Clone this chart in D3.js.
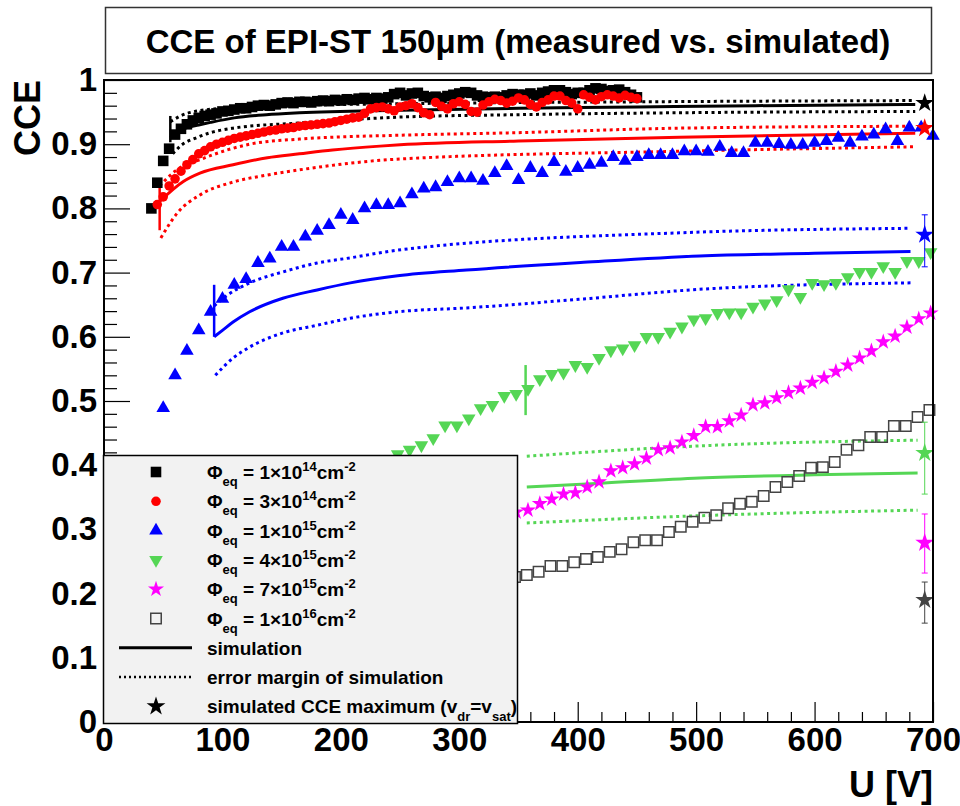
<!DOCTYPE html>
<html>
<head>
<meta charset="utf-8">
<script src="https://cdn.jsdelivr.net/npm/d3@7"></script>
<style>
  body { margin: 0; background: #fff; }
  text { font-family: "Liberation Sans", Arial, Helvetica, sans-serif; font-weight: bold; }
</style>
</head>
<body>
<div id="chart"></div>
<script>
// measured CCE, [U in V, CCE]
const meas1e14 = [[40,.800],[45,.840],[50,.874],[55,.893],[60,.915],[65,.924],[70,.931],[75,.937],[80,.941],[85,.944],[90,.946],[95,.948],[100,.951],[105,.952],[110,.954],[115,.956],[120,.956],[125,.958],[130,.960],[135,.961],[140,.960],[145,.962],[150,.964],[155,.965],[160,.964],[165,.966],[170,.966],[175,.965],[180,.967],[185,.968],[190,.967],[195,.969],[200,.968],[205,.970],[210,.969],[215,.971],[220,.972],[225,.970],[230,.972],[235,.971],[240,.973],[245,.978],[250,.980],[255,.976],[260,.979],[265,.980],[270,.975],[275,.973],[280,.974],[285,.972],[290,.975],[295,.977],[300,.979],[305,.981],[310,.980],[315,.976],[320,.974],[325,.973],[330,.974],[335,.973],[340,.976],[345,.978],[350,.977],[355,.977],[360,.979],[365,.976],[370,.980],[375,.982],[380,.984],[385,.984],[390,.981],[395,.978],[400,.980],[405,.980],[410,.984],[415,.987],[420,.986],[425,.983],[430,.984],[435,.985],[440,.981],[445,.977],[450,.973]]
const meas3e14 = [[45,.806],[50,.818],[55,.835],[60,.846],[65,.858],[70,.868],[75,.876],[80,.885],[85,.890],[90,.896],[95,.900],[100,.903],[105,.906],[110,.909],[115,.911],[120,.913],[125,.915],[130,.917],[135,.919],[140,.921],[145,.922],[150,.924],[155,.925],[160,.926],[165,.928],[170,.929],[175,.930],[180,.931],[185,.932],[190,.933],[195,.935],[200,.937],[205,.939],[210,.941],[215,.942],[220,.948],[225,.955],[230,.957],[235,.958],[240,.955],[245,.952],[250,.958],[255,.960],[260,.963],[265,.957],[270,.949],[275,.946],[280,.965],[285,.959],[290,.955],[295,.963],[300,.966],[305,.962],[310,.951],[315,.950],[320,.961],[325,.966],[330,.970],[335,.968],[340,.964],[345,.967],[350,.972],[355,.969],[360,.962],[365,.958],[370,.965],[375,.969],[380,.975],[385,.975],[390,.968],[395,.964],[400,.955],[405,.977],[410,.973],[415,.969],[420,.974],[425,.977],[430,.975],[435,.972],[440,.976],[445,.973],[450,.971]]
const meas1e15 = [[50,.489],[60,.540],[70,.578],[80,.610],[90,.639],[100,.659],[110,.681],[120,.690],[130,.715],[140,.722],[150,.740],[160,.740],[170,.756],[180,.765],[190,.774],[200,.790],[210,.782],[220,.800],[230,.805],[240,.805],[250,.808],[260,.822],[270,.831],[280,.833],[290,.841],[300,.847],[310,.847],[320,.843],[330,.855],[340,.866],[350,.844],[360,.863],[370,.855],[380,.872],[390,.857],[400,.863],[410,.868],[420,.871],[430,.880],[440,.874],[450,.880],[460,.883],[470,.883],[480,.883],[490,.889],[500,.889],[510,.888],[520,.896],[530,.886],[540,.886],[550,.902],[560,.902],[570,.900],[580,.899],[590,.899],[600,.902],[610,.905],[620,.910],[630,.902],[640,.912],[650,.915],[660,.923],[670,.905],[680,.926],[690,.926],[700,.913]]
const meas4e15 = [[248,.417],[258,.424],[268,.431],[278,.442],[288,.462],[298,.462],[308,.473],[318,.489],[328,.494],[338,.508],[348,.511],[358,.519],[368,.534],[378,.542],[388,.544],[398,.556],[408,.553],[418,.567],[428,.579],[438,.582],[448,.587],[458,.600],[468,.600],[478,.608],[488,.616],[498,.627],[508,.629],[518,.637],[528,.638],[538,.638],[548,.647],[558,.652],[568,.657],[578,.674],[588,.662],[598,.684],[608,.682],[618,.684],[628,.693],[638,.701],[648,.701],[658,.710],[668,.701],[678,.718],[688,.718],[698,.732]]
const meas7e15 = [[348,.327],[358,.330],[368,.340],[378,.347],[388,.355],[398,.357],[408,.366],[418,.374],[428,.391],[438,.396],[448,.402],[458,.411],[468,.424],[478,.427],[488,.436],[498,.446],[508,.460],[518,.460],[528,.469],[538,.478],[548,.494],[558,.497],[568,.505],[578,.513],[588,.520],[598,.529],[608,.536],[618,.546],[628,.556],[638,.567],[648,.578],[658,.592],[668,.601],[678,.615],[688,.628],[698,.637]]
const meas1e16 = [[347,.226],[357,.229],[367,.234],[377,.243],[387,.243],[397,.249],[407,.254],[417,.257],[427,.265],[437,.269],[447,.280],[457,.283],[467,.283],[477,.296],[487,.304],[497,.312],[507,.318],[517,.322],[527,.333],[537,.340],[547,.343],[557,.352],[567,.366],[577,.374],[587,.383],[597,.396],[607,.397],[617,.405],[627,.424],[637,.431],[647,.444],[657,.444],[667,.461],[677,.461],[687,.475],[697,.486]]

// simulation (solid) and its error margin (dotted)
const sim1e14 = [[56,.910],[63,.920],[70,.926],[80,.930],[90,.934],[110,.941],[137,.946],[165,.949],[250,.953],[350,.956],[450,.958],[550,.960],[685,.962]]
const simHi1e14 = [[56,.935],[70,.948],[100,.956],[150,.960],[250,.963],[450,.966],[685,.968]]
const simLo1e14 = [[58,.885],[65,.898],[78,.910],[90,.918],[109,.925],[165,.933],[247,.942],[350,.946],[486,.949],[685,.951]]
const sim3e14 = [[47,.811],[67,.842],[81,.855],[109,.868],[138,.879],[165,.885],[193,.891],[233,.897],[250,.899],[350,.905],[486,.911],[685,.917]]
const simHi3e14 = [[47,.835],[60,.858],[84,.878],[123,.900],[165,.908],[250,.914],[350,.918],[486,.925],[685,.928]]
const simLo3e14 = [[48,.754],[62,.793],[81,.821],[109,.841],[138,.852],[165,.860],[250,.877],[486,.889],[685,.896]]
const sim1e15 = [[93,.600],[100,.610],[109,.623],[123,.639],[151,.660],[180,.673],[208,.684],[248,.695],[306,.704],[405,.716],[503,.726],[600,.730],[681,.733]]
const simHi1e15 = [[93,.648],[102,.662],[123,.684],[151,.701],[180,.715],[208,.723],[248,.735],[486,.762],[681,.769]]
const simLo1e15 = [[94,.540],[109,.567],[123,.584],[151,.606],[180,.618],[208,.629],[248,.639],[306,.645],[405,.659],[503,.674],[681,.684]]
const sim4e15 = [[357,.366],[420,.372],[503,.380],[600,.385],[687,.388]]
const simHi4e15 = [[357,.414],[514,.431],[687,.439]]
const simLo4e15 = [[357,.310],[514,.322],[687,.330]]

// vertical bars at the start of the simulated curves: [U, low, high]
const startBars = [[56,.903,.944],[47,.766,.847],[93,.600,.681],[356,.478,.556]]

// simulated CCE maximum at U = 693 V: [CCE, low, high]
const maxU = 693
const simMax = [[.964,.964,.964],[.925,.920,.930],[.759,.709,.790],[.419,.355,.467],[.279,.232,.324],[.190,.154,.218]]

const fluenceMantissa = ["1", "3", "1", "4", "7", "1"]
const fluenceExponent = ["14", "14", "15", "15", "15", "16"]

const xMajor = [0, 100, 200, 300, 400, 500, 600, 700]
const yMajor = [0, .1, .2, .3, .4, .5, .6, .7, .8, .9, 1]

// ---------------------------------------------------------------
const width = 960, height = 806
const colors = ["#000000", "#ff0000", "#0000ff", "#55d655", "#ff00ff", "#444444"]
const green = colors[3]

const svg = d3.select("#chart").append("svg")
    .attr("width", width)
    .attr("height", height)

svg.append("rect").attr("width", width).attr("height", height).attr("fill", "#fff")

const x = d3.scaleLinear().domain([0, 700]).range([104, 933])
const y = d3.scaleLinear().domain([0, 1]).range([722, 80])

// title box
svg.append("rect")
    .attr("x", 105.5).attr("y", 7.5).attr("width", 826).attr("height", 66)
    .attr("fill", "#fff").attr("stroke", "#333").attr("stroke-width", 1.5)
svg.append("text")
    .attr("x", 518).attr("y", 53)
    .attr("text-anchor", "middle")
    .style("font-size", "33px")
    .text("CCE of EPI-ST 150μm (measured vs. simulated)")

// simulation lines
const line = d3.line().x(d => x(d[0])).y(d => y(d[1])).curve(d3.curveMonotoneX)
const sims = [
    [sim1e14, simHi1e14, simLo1e14, colors[0]],
    [sim3e14, simHi3e14, simLo3e14, colors[1]],
    [sim1e15, simHi1e15, simLo1e15, colors[2]],
    [sim4e15, simHi4e15, simLo4e15, colors[3]]
]
const simG = svg.append("g")
sims.forEach(s => {
    simG.append("path").datum(s[1]).attr("d", line)
        .attr("fill", "none").attr("stroke", s[3]).attr("stroke-width", 3)
        .attr("stroke-dasharray", "3,3.5")
    simG.append("path").datum(s[2]).attr("d", line)
        .attr("fill", "none").attr("stroke", s[3]).attr("stroke-width", 3)
        .attr("stroke-dasharray", "3,3.5")
    simG.append("path").datum(s[0]).attr("d", line)
        .attr("fill", "none").attr("stroke", s[3]).attr("stroke-width", 3)
})
startBars.forEach((b, i) => {
    simG.append("line")
        .attr("x1", x(b[0])).attr("x2", x(b[0]))
        .attr("y1", y(b[1])).attr("y2", y(b[2]))
        .attr("stroke", colors[i]).attr("stroke-width", 2.5)
})

// measured points
const markers = [
    { data: meas1e14, type: d3.symbolSquare, size: 112, fill: colors[0], stroke: "none" },
    { data: meas3e14, type: d3.symbolCircle, size: 72, fill: colors[1], stroke: "none" },
    { data: meas1e15, type: d3.symbolTriangle, size: 80, fill: colors[2], stroke: "none" },
    { data: meas4e15, type: d3.symbolTriangle, size: 80, fill: green, stroke: "none", flip: true },
    { data: meas7e15, type: d3.symbolStar, size: 80, fill: colors[4], stroke: "none" },
    { data: meas1e16, type: d3.symbolSquare, size: 110, fill: "none", stroke: colors[5] }
]
const markG = svg.append("g")
markers.forEach(m => {
    markG.selectAll(null)
        .data(m.data)
        .enter()
        .append("path")
        .attr("d", d3.symbol().type(m.type).size(m.size))
        .attr("transform", d => `translate(${x(d[0])},${y(d[1])})` + (m.flip ? " rotate(180)" : ""))
        .attr("fill", m.fill)
        .attr("stroke", m.stroke)
        .attr("stroke-width", 1.5)
})

// simulated maxima with error bars
const maxG = svg.append("g")
simMax.forEach((d, i) => {
    let c = colors[i]
    if (d[2] > d[1]) {
        maxG.append("line").attr("x1", x(maxU)).attr("x2", x(maxU))
            .attr("y1", y(d[1])).attr("y2", y(d[2])).attr("stroke", c).attr("stroke-width", 1)
        ;[d[1], d[2]].forEach(v => {
            maxG.append("line").attr("x1", x(maxU) - 3).attr("x2", x(maxU) + 3)
                .attr("y1", y(v)).attr("y2", y(v)).attr("stroke", c).attr("stroke-width", 1)
        })
    }
    maxG.append("path")
        .attr("d", d3.symbol().type(d3.symbolStar).size(110))
        .attr("transform", `translate(${x(maxU)},${y(d[0])})`)
        .attr("fill", c)
})

// frame
svg.append("rect")
    .attr("x", 104).attr("y", 80).attr("width", 829).attr("height", 642)
    .attr("fill", "none").attr("stroke", "#000").attr("stroke-width", 2)

// axes
const yMinor = d3.range(0, 1.001, 0.02).filter(v => Math.abs(v * 10 - Math.round(v * 10)) > 1e-6)
const xMinor = d3.range(0, 701, 20).filter(v => v % 100 !== 0)

const yAxis = svg.append("g").attr("transform", "translate(104,0)")
    .call(d3.axisLeft(y).tickValues(yMajor).tickSize(-26).tickSizeOuter(0).tickPadding(7)
        .tickFormat(d => d === 0 ? "0" : d === 1 ? "1" : d3.format(".1f")(d)))
yAxis.append("g")
    .call(d3.axisLeft(y).tickValues(yMinor).tickSize(-13).tickSizeOuter(0).tickFormat(""))

const xAxis = svg.append("g").attr("transform", "translate(0,722)")
    .call(d3.axisBottom(x).tickValues(xMajor).tickSize(-20).tickSizeOuter(0).tickPadding(6))
xAxis.append("g")
    .call(d3.axisBottom(x).tickValues(xMinor).tickSize(-10).tickSizeOuter(0).tickFormat(""))

svg.selectAll(".domain").remove()
svg.selectAll(".tick line").attr("stroke", "#000").attr("stroke-width", 1.2)
svg.selectAll(".tick text")
    .attr("fill", "#000")
    .style("font-size", "33px")
    .style("font-family", "'Liberation Sans', Arial, sans-serif")
    .style("font-weight", "bold")

// axis titles
svg.append("text")
    .attr("transform", "translate(40,80) rotate(-90)")
    .attr("text-anchor", "end")
    .style("font-size", "36px")
    .text("CCE")
svg.append("text")
    .attr("x", 933).attr("y", 797)
    .attr("text-anchor", "end")
    .style("font-size", "36px")
    .text("U [V]")

// legend
const legend = svg.append("g")
svg.append("clipPath").attr("id", "legclip")
    .append("rect").attr("x", 103).attr("y", 455).attr("width", 415).attr("height", 268)
legend.append("rect")
    .attr("x", 103.5).attr("y", 455.5).attr("width", 414).attr("height", 268)
    .attr("fill", "#f2f2f2").attr("stroke", "#000").attr("stroke-width", 1.5)

const rowY = i => 472 + i * 29.3
const legText = legend.append("g").attr("clip-path", "url(#legclip)")

markers.forEach((m, i) => {
    legText.append("path")
        .attr("d", d3.symbol().type(m.type).size(m.size))
        .attr("transform", `translate(156,${rowY(i)})` + (m.flip ? " rotate(180)" : ""))
        .attr("fill", m.fill)
        .attr("stroke", m.stroke)
        .attr("stroke-width", 1.5)

    let t = legText.append("text").attr("x", 207).attr("y", rowY(i) + 7).style("font-size", "19px")
    t.append("tspan").text("Φ")
    t.append("tspan").attr("dy", 7).style("font-size", "13px").text("eq")
    t.append("tspan").attr("dy", -7).text(` = ${fluenceMantissa[i]}×10`)
    t.append("tspan").attr("dy", -8).style("font-size", "13px").text(fluenceExponent[i])
    t.append("tspan").attr("dy", 8).text("cm")
    t.append("tspan").attr("dy", -8).style("font-size", "13px").text("-2")
})

legText.append("line").attr("x1", 119).attr("x2", 192)
    .attr("y1", rowY(6)).attr("y2", rowY(6)).attr("stroke", "#000").attr("stroke-width", 3)
legText.append("text").attr("x", 207).attr("y", rowY(6) + 7).style("font-size", "19px").text("simulation")

legText.append("line").attr("x1", 119).attr("x2", 192)
    .attr("y1", rowY(7)).attr("y2", rowY(7)).attr("stroke", "#000").attr("stroke-width", 2.5)
    .attr("stroke-dasharray", "2,3")
legText.append("text").attr("x", 207).attr("y", rowY(7) + 7).style("font-size", "19px").text("error margin of simulation")

legText.append("path")
    .attr("d", d3.symbol().type(d3.symbolStar).size(110))
    .attr("transform", `translate(156,${rowY(8)})`)
    .attr("fill", "#000")
let t8 = legText.append("text").attr("x", 207).attr("y", rowY(8) + 7).style("font-size", "19px")
t8.append("tspan").text("simulated CCE maximum (v")
t8.append("tspan").attr("dy", 8).style("font-size", "13px").text("dr")
t8.append("tspan").attr("dy", -8).text("=v")
t8.append("tspan").attr("dy", 8).style("font-size", "13px").text("sat")
t8.append("tspan").attr("dy", -8).text(")")
</script>
</body>
</html>
